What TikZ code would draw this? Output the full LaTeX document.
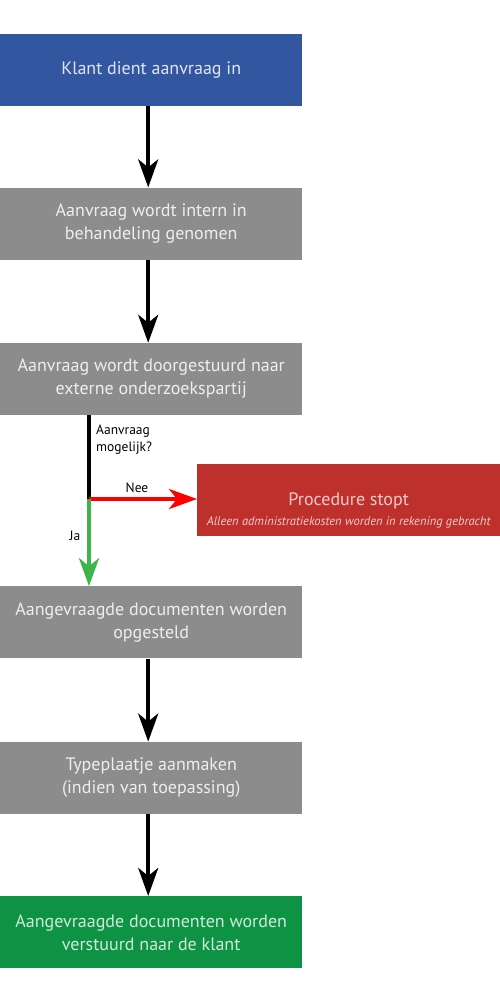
\documentclass[tikz,border=0pt]{standalone}
\usepackage{fontspec}
\setmainfont{PT Sans}
\usepackage{tikz}
\usetikzlibrary{positioning,arrows.meta}

\definecolor{stepblue}{HTML}{3356A0}
\definecolor{stepgrey}{HTML}{8C8C8C}
\definecolor{stepred}{HTML}{BE302C}
\definecolor{stepgreen}{HTML}{0E9345}
\definecolor{yesgreen}{HTML}{3DB54A}

\begin{document}
\begin{tikzpicture}[x=1pt,y=1pt,
		node distance=81pt,
		box/.style={rectangle, fill=stepgrey, text=white!85!stepgrey, minimum width=302pt, minimum height=72pt, inner sep=0pt, align=center, font=\fontsize{18}{23}\selectfont},
		flow/.style={line width=4pt, -{Stealth[length=28pt,width=20pt,inset=8pt]}},
		lbl/.style={font=\fontsize{13.5}{17}\selectfont, inner sep=0pt}]
	\useasboundingbox (0,0) rectangle (500,-1000);
	\node [box, fill=stepblue, text=white!85!stepblue, anchor=north west] (s1) at (0,-34) {Klant dient aanvraag in};
	\node [box, below=of s1] (s2) {Aanvraag wordt intern in\\behandeling genomen};
	\node [box, below=83pt of s2] (s3) {Aanvraag wordt doorgestuurd naar\\externe onderzoekspartij};
	\node [box, below=171pt of s3] (s4) {Aangevraagde documenten worden\\opgesteld};
	\node [box, below=83pt of s4] (s5) {Typeplaatje aanmaken\\(indien van toepassing)};
	\node [box, fill=stepgreen, text=white!80!stepgreen, below=82pt of s5] (s6) {Aangevraagde documenten worden\\verstuurd naar de klant};
	\node [box, fill=stepred, minimum width=303pt, anchor=west] (stop) at (197,-500) {};
	\node [align=center, text=white!75!stepred, inner sep=0pt, font=\fontsize{18}{22}\selectfont] (stoptxt) at ([yshift=-10pt]stop.center) {Procedure stopt\\[-2pt]\fontsize{12.5}{15}\selectfont\itshape Alleen administratiekosten worden in rekening gebracht};
	%
	\coordinate (split) at (89,-499);
	\draw [flow] ([xshift=-3pt]s1.south) -- ([xshift=-3pt]s2.north);
	\draw [flow] ([xshift=-3pt]s2.south) -- ([xshift=-3pt]s3.north);
	\draw [flow] ([xshift=-3pt]s4.south) -- ([xshift=-3pt]s5.north);
	\draw [flow] ([xshift=-3pt]s5.south) -- ([xshift=-3pt]s6.north);
	\draw [line width=4pt] (s3.south -| split) -- (split);
	\draw [flow, red] (split) -- (stop.west |- split);
	\draw [flow, yesgreen] (split) -- (s4.north -| split);
	%
	\node [lbl, anchor=north west, align=left] (q) at (96,-425) {Aanvraag\\mogelijk?};
	\node [lbl] (nee) at (137,-488) {Nee};
	\node [lbl] (ja) at (75,-536) {Ja};
\end{tikzpicture}
\end{document}
